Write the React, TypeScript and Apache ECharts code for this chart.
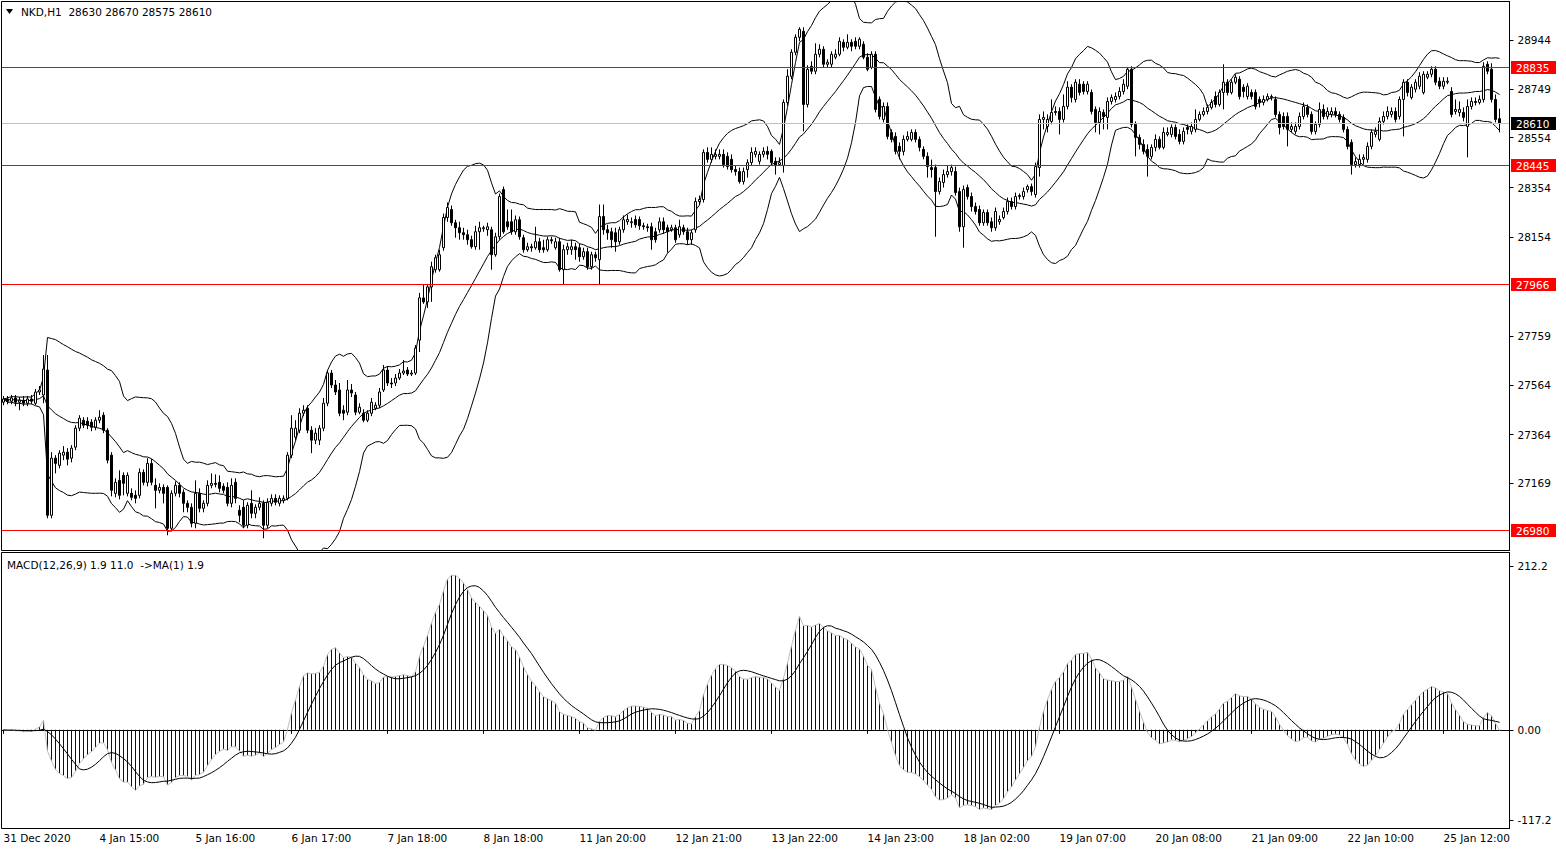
import React, { useEffect, useRef } from "react";
import * as echarts from "echarts";

// NKD H1 candles: [open, high, low, close]
const candles: number[][] = [
  [27494,27519,27482,27507],[27507,27519,27486,27498],[27498,27523,27486,27511],[27511,27523,27478,27494],[27494,27515,27462,27502],
  [27502,27519,27478,27490],[27490,27519,27478,27507],[27507,27523,27486,27498],[27490,27547,27482,27535],[27535,27559,27523,27543],
  [27523,27683,27490,27627],[27623,27683,27029,27041],[27041,27294,27029,27270],[27270,27282,27209,27249],[27241,27302,27229,27290],
  [27282,27318,27262,27294],[27294,27310,27241,27266],[27270,27322,27253,27310],[27314,27402,27302,27390],[27390,27442,27378,27430],
  [27422,27434,27390,27402],[27418,27434,27386,27402],[27414,27426,27378,27394],[27394,27434,27382,27422],[27422,27462,27410,27434],
  [27442,27454,27370,27382],[27382,27390,27249,27262],[27282,27294,27117,27141],[27129,27189,27113,27173],[27181,27221,27105,27121],
  [27201,27213,27121,27169],[27129,27213,27117,27201],[27129,27149,27101,27113],[27121,27141,27089,27109],[27121,27229,27109,27213],
  [27213,27225,27161,27173],[27173,27270,27157,27249],[27249,27266,27161,27173],[27161,27189,27069,27141],[27141,27169,27129,27153],
  [27153,27165,27089,27129],[27153,27161,26961,26989],[26989,27141,26977,27129],[27129,27177,27117,27161],[27161,27173,27113,27129],
  [27133,27145,27053,27089],[27089,27101,27053,27073],[27073,27089,26993,27009],[27009,27181,26989,27129],[27129,27149,27053,27069],
  [27069,27101,27053,27089],[27089,27181,27077,27161],[27161,27209,27149,27169],[27169,27205,27153,27165],[27173,27201,27133,27149],
  [27157,27169,27129,27141],[27153,27173,27077,27089],[27089,27189,27073,27161],[27173,27189,27089,27109],[27061,27081,27013,27041],
  [27073,27101,26989,27001],[27001,27093,26989,27081],[27089,27141,27029,27049],[27049,27085,27029,27073],[27073,27113,27061,27089],
  [27089,27101,26949,27001],[27001,27109,26989,27093],[27089,27125,27077,27109],[27109,27125,27081,27093],[27089,27121,27077,27109],
  [27101,27121,27089,27109],[27109,27294,27101,27282],[27282,27442,27270,27390],[27354,27422,27342,27390],[27382,27470,27370,27450],
  [27450,27482,27438,27462],[27470,27482,27370,27382],[27382,27398,27290,27342],[27342,27390,27326,27370],[27342,27402,27322,27390],
  [27390,27511,27378,27490],[27490,27623,27478,27611],[27611,27623,27551,27563],[27563,27583,27523,27535],[27543,27571,27438,27450],
  [27462,27482,27422,27450],[27454,27583,27442,27543],[27543,27567,27515,27531],[27523,27535,27442,27454],[27454,27490,27446,27474],
  [27450,27466,27414,27422],[27422,27462,27414,27450],[27450,27511,27438,27494],[27470,27494,27462,27482],[27482,27551,27470,27535],
  [27543,27643,27535,27623],[27623,27639,27559,27571],[27571,27591,27551,27567],[27571,27607,27559,27591],[27591,27627,27583,27611],
  [27611,27663,27603,27619],[27623,27635,27599,27607],[27607,27623,27599,27611],[27611,27723,27603,27711],[27743,27932,27695,27912],
  [27912,27964,27888,27896],[27896,27968,27872,27956],[27956,28057,27896,28037],[28025,28085,28013,28073],[28025,28105,28017,28085],
  [28113,28250,28101,28234],[28234,28294,28217,28274],[28266,28282,28201,28213],[28213,28225,28153,28193],[28193,28217,28145,28173],
  [28173,28193,28145,28165],[28165,28185,28125,28145],[28145,28161,28109,28117],[28117,28201,28105,28177],[28177,28217,28105,28193],
  [28189,28201,28177,28193],[28185,28213,28161,28197],[28185,28197,28025,28085],[28085,28173,28077,28157],[28157,28330,28145,28318],
  [28346,28358,28169,28177],[28217,28266,28185,28197],[28217,28266,28165,28177],[28177,28242,28165,28225],[28225,28238,28145,28157],
  [28153,28165,28093,28105],[28105,28133,28097,28117],[28117,28129,28097,28113],[28113,28197,28105,28137],[28137,28153,28093,28105],
  [28113,28145,28093,28105],[28105,28157,28097,28145],[28145,28157,28129,28141],[28113,28153,28105,28137],[28137,28153,28017,28025],
  [28025,28125,27964,28105],[28105,28133,28085,28117],[28105,28145,28085,28117],[28117,28133,28065,28105],[28113,28129,28057,28077],
  [28077,28113,28065,28097],[28097,28113,28025,28037],[28037,28097,28025,28085],[28085,28097,28057,28073],[28065,28286,27964,28238],
  [28238,28286,28165,28185],[28185,28205,28145,28173],[28177,28193,28113,28145],[28173,28193,28097,28137],[28137,28197,28125,28185],
  [28185,28242,28173,28225],[28217,28246,28205,28226],[28213,28234,28193,28217],[28226,28242,28193,28205],[28226,28238,28185,28201],
  [28201,28213,28185,28197],[28197,28209,28177,28193],[28197,28213,28105,28145],[28177,28193,28133,28145],[28185,28234,28173,28217],
  [28217,28234,28169,28185],[28193,28205,28093,28177],[28185,28205,28177,28193],[28193,28205,28133,28145],[28165,28225,28153,28197],
  [28193,28205,28165,28177],[28177,28193,28125,28145],[28145,28185,28125,28173],[28185,28314,28173,28298],[28298,28322,28286,28306],
  [28306,28507,28294,28495],[28495,28515,28454,28467],[28467,28515,28454,28487],[28479,28507,28467,28487],[28479,28507,28467,28487],
  [28487,28507,28434,28446],[28479,28495,28426,28438],[28467,28487,28414,28426],[28426,28442,28402,28418],[28418,28434,28370,28378],
  [28378,28434,28366,28418],[28426,28467,28394,28454],[28454,28515,28442,28495],[28487,28515,28475,28499],[28459,28499,28446,28487],
  [28487,28515,28475,28499],[28499,28519,28467,28487],[28499,28507,28442,28454],[28459,28475,28406,28442],[28446,28475,28442,28454],
  [28442,28707,28414,28695],[28695,28828,28683,28800],[28800,28908,28788,28896],[28896,28968,28884,28956],[28956,28996,28940,28988],
  [28980,28996,28579,28687],[28687,28844,28675,28828],[28840,28860,28808,28820],[28820,28932,28808,28888],[28888,28928,28876,28908],
  [28908,28920,28836,28848],[28848,28868,28836,28856],[28848,28900,28836,28888],[28876,28908,28868,28888],[28888,28956,28880,28940],
  [28936,28948,28900,28916],[28916,28968,28908,28936],[28936,28948,28900,28920],[28940,28956,28908,28920],[28920,28956,28908,28948],
  [28928,28940,28868,28876],[28876,28892,28820,28828],[28836,28900,28828,28888],[28888,28900,28655,28667],[28707,28719,28627,28639],
  [28627,28695,28615,28679],[28679,28695,28547,28559],[28575,28587,28535,28547],[28559,28575,28487,28499],[28519,28535,28467,28499],
  [28499,28563,28483,28547],[28547,28579,28539,28559],[28547,28587,28539,28575],[28575,28587,28535,28547],[28547,28559,28499,28515],
  [28507,28519,28467,28479],[28479,28495,28394,28438],[28434,28466,28394,28426],[28434,28446,28157,28338],[28338,28394,28326,28378],
  [28374,28426,28354,28406],[28406,28442,28394,28418],[28418,28446,28402,28434],[28418,28438,28322,28334],[28338,28354,28177,28197],
  [28197,28362,28113,28346],[28354,28366,28306,28318],[28318,28334,28258,28278],[28278,28294,28246,28258],[28266,28282,28201,28213],
  [28213,28266,28201,28254],[28254,28266,28201,28213],[28217,28234,28177,28193],[28193,28274,28181,28258],[28217,28242,28205,28226],
  [28234,28274,28226,28258],[28258,28314,28246,28298],[28298,28314,28266,28278],[28278,28334,28266,28318],[28318,28330,28306,28322],
  [28318,28354,28306,28338],[28346,28366,28334,28358],[28358,28370,28322,28338],[28326,28454,28314,28438],[28434,28647,28398,28627],
  [28627,28659,28587,28635],[28599,28647,28575,28627],[28619,28707,28607,28655],[28659,28679,28643,28655],[28659,28675,28567,28627],
  [28627,28727,28615,28679],[28679,28780,28667,28756],[28756,28768,28695,28715],[28707,28788,28695,28776],[28768,28788,28723,28735],
  [28768,28780,28727,28739],[28739,28780,28727,28768],[28735,28747,28647,28659],[28667,28679,28575,28615],[28615,28675,28567,28659],
  [28655,28667,28587,28639],[28635,28715,28587,28699],[28699,28727,28687,28715],[28707,28735,28695,28719],[28719,28756,28707,28739],
  [28739,28788,28727,28768],[28760,28836,28748,28828],[28828,28840,28595,28607],[28607,28619,28479,28555],[28555,28567,28507,28527],
  [28527,28547,28487,28499],[28507,28527,28398,28479],[28479,28527,28467,28515],[28515,28567,28499,28547],[28547,28559,28507,28515],
  [28515,28595,28507,28575],[28567,28595,28559,28575],[28567,28607,28555,28595],[28595,28607,28547,28559],[28567,28587,28527,28539],
  [28539,28595,28527,28579],[28595,28607,28567,28587],[28579,28615,28567,28599],[28587,28667,28575,28627],[28627,28659,28619,28647],
  [28647,28675,28639,28659],[28659,28687,28647,28675],[28675,28707,28667,28695],[28719,28739,28675,28687],[28687,28747,28679,28735],
  [28735,28848,28667,28776],[28776,28788,28723,28735],[28735,28788,28727,28776],[28776,28808,28768,28796],[28788,28800,28707,28719],
  [28756,28768,28715,28739],[28719,28772,28707,28760],[28735,28747,28707,28719],[28735,28747,28667,28679],[28707,28719,28675,28695],
  [28695,28723,28683,28707],[28707,28731,28699,28719],[28715,28727,28703,28719],[28707,28719,28635,28647],[28647,28659,28567,28595],
  [28639,28655,28587,28599],[28639,28655,28519,28587],[28587,28615,28575,28599],[28579,28615,28567,28599],[28599,28655,28587,28639],
  [28639,28695,28627,28679],[28675,28687,28635,28647],[28647,28659,28567,28579],[28579,28619,28567,28607],[28607,28695,28595,28667],
  [28667,28687,28627,28639],[28639,28675,28627,28659],[28647,28675,28635,28659],[28659,28675,28635,28647],[28647,28659,28615,28627],
  [28635,28647,28575,28587],[28587,28599,28507,28519],[28535,28547,28406,28446],[28446,28475,28434,28458],[28446,28487,28434,28467],
  [28467,28487,28446,28475],[28467,28535,28454,28519],[28519,28587,28507,28575],[28567,28595,28555,28579],[28547,28635,28539,28619],
  [28619,28659,28607,28639],[28639,28679,28627,28659],[28647,28675,28635,28659],[28659,28675,28615,28627],[28639,28719,28627,28707],
  [28707,28788,28559,28776],[28776,28788,28719,28735],[28715,28768,28707,28756],[28748,28788,28735,28776],[28760,28816,28748,28800],
  [28735,28820,28727,28808],[28796,28820,28788,28808],[28808,28840,28796,28828],[28828,28840,28764,28776],[28780,28796,28748,28760],
  [28760,28796,28748,28780],[28776,28796,28768,28780],[28739,28756,28635,28647],[28659,28707,28647,28667],[28655,28699,28639,28667],
  [28655,28675,28619,28635],[28599,28707,28475,28679],[28679,28715,28667,28699],[28699,28715,28683,28695],[28695,28723,28687,28707],
  [28707,28856,28695,28840],[28848,28860,28808,28820],[28828,28852,28695,28707],[28707,28727,28615,28627],[28630,28670,28575,28610],
];

const xTickLabels = [
  "31 Dec 2020", "4 Jan 15:00", "5 Jan 16:00", "6 Jan 17:00", "7 Jan 18:00", "8 Jan 18:00",
  "11 Jan 20:00", "12 Jan 21:00", "13 Jan 22:00", "14 Jan 23:00", "18 Jan 02:00", "19 Jan 07:00",
  "20 Jan 08:00", "21 Jan 09:00", "22 Jan 10:00", "25 Jan 12:00",
];
const barsPerLabel = 24;
const slotCount = 377;

const priceTicks = [28944, 28749, 28554, 28354, 28154, 27759, 27564, 27364, 27169];
const levelLines = [28835, 28445, 27966, 26980];
const lastPrice = 28610;
const macdTicks = [212.2, 0, -117.2];

const titleText = "NKD,H1  28630 28670 28575 28610";
const macdTitle = "MACD(12,26,9) 1.9 11.0  ->MA(1) 1.9";

const FONT = "DejaVu Sans";
const FS = 10.5;
const GRID_LEFT = 1.5;
const GRID_WIDTH = 1508;

function ema(vals: number[], n: number) {
  const k = 2 / (n + 1);
  const out: number[] = [];
  let prev = vals[0];
  vals.forEach((v, i) => {
    prev = i === 0 ? v : v * k + prev * (1 - k);
    out.push(prev);
  });
  return out;
}

export default function App() {
  const ref = useRef<HTMLDivElement>(null);
  useEffect(() => {
    const chart = echarts.init(ref.current!, null, { renderer: "svg" });
    const closes = candles.map((c) => c[3]);
    const bbUp: number[] = [], bbMid: number[] = [], bbLow: number[] = [];
    closes.forEach((_, i) => {
      const w = closes.slice(Math.max(0, i - 19), i + 1);
      const m = w.reduce((a, b) => a + b, 0) / w.length;
      const sd = Math.sqrt(w.reduce((a, b) => a + (b - m) * (b - m), 0) / w.length);
      bbUp.push(+(m + 2 * sd).toFixed(2));
      bbMid.push(+m.toFixed(2));
      bbLow.push(+(m - 2 * sd).toFixed(2));
    });
    const e12 = ema(closes, 12), e26 = ema(closes, 26);
    const macd = e12.map((v, i) => +(v - e26[i]).toFixed(2));
    const signal = macd.map((_, i) => {
      const w = macd.slice(Math.max(0, i - 8), i + 1);
      return +(w.reduce((a, b) => a + b, 0) / w.length).toFixed(2);
    });

    const xData = Array.from({ length: slotCount }, (_, i) => String(i));
    const showIdx = (i: number) => i % barsPerLabel === 0 && i / barsPerLabel < xTickLabels.length;
    const font = `${FS}px "${FONT}"`;

    const option: any = {
      animation: false,
      backgroundColor: "#fff",
      textStyle: { fontFamily: FONT },
      grid: [
        { left: GRID_LEFT, top: 1.5, width: GRID_WIDTH, height: 549, show: true, borderColor: "#000", borderWidth: 1 },
        { left: GRID_LEFT, top: 552.5, width: GRID_WIDTH, height: 276, show: true, borderColor: "#000", borderWidth: 1 },
      ],
      xAxis: [
        {
          type: "category", gridIndex: 0, data: xData, boundaryGap: true,
          axisLine: { show: false }, axisTick: { show: false }, axisLabel: { show: false }, splitLine: { show: false },
        },
        {
          type: "category", gridIndex: 1, data: xData, boundaryGap: true,
          axisLine: { show: true, lineStyle: { color: "#000" } },
          axisTick: { show: true, interval: (i: number) => showIdx(i), alignWithLabel: true, length: 4, lineStyle: { color: "#000" } },
          axisLabel: {
            show: true, interval: (i: number) => showIdx(i), align: "left", margin: 4,
            color: "#000", fontFamily: FONT, fontSize: FS,
            formatter: (_v: string, i: number) => xTickLabels[i / barsPerLabel] ?? "",
          },
          splitLine: { show: false },
        },
      ],
      yAxis: [
        {
          type: "value", gridIndex: 0, position: "right", min: 26900, max: 29099.4,
          splitLine: { show: false },
          axisLine: { show: true, lineStyle: { color: "#000" } },
          axisTick: { show: true, customValues: priceTicks, length: 4, lineStyle: { color: "#000" } },
          axisLabel: {
            show: true, customValues: priceTicks, margin: 8, color: "#000", fontFamily: FONT, fontSize: FS,
            formatter: (v: number) => String(Math.round(v)),
          },
        },
        {
          type: "value", gridIndex: 1, position: "right", min: -127.8, max: 229.7,
          splitLine: { show: false },
          axisLine: { show: true, lineStyle: { color: "#000" } },
          axisTick: { show: true, customValues: macdTicks, length: 4, lineStyle: { color: "#000" } },
          axisLabel: {
            show: true, customValues: macdTicks, margin: 8, color: "#000", fontFamily: FONT, fontSize: FS,
            formatter: (v: number) => (v === 0 ? "0.00" : v.toFixed(1)),
          },
        },
      ],
      series: [
        ...[bbUp, bbMid, bbLow].map((d) => ({
          type: "line", xAxisIndex: 0, yAxisIndex: 0, data: d, symbol: "none", silent: true,
          lineStyle: { color: "#000", width: 1 }, z: 2,
        })),
        {
          type: "candlestick", xAxisIndex: 0, yAxisIndex: 0,
          data: candles.map(([o, h, l, c]) => [o, c, l, h]),
          barWidth: 3,
          itemStyle: { color: "#fff", color0: "#000", borderColor: "#000", borderColor0: "#000", borderColorDoji: "#000", borderWidth: 1 },
          z: 3,
        },
        {
          type: "bar", xAxisIndex: 1, yAxisIndex: 1, data: macd, barWidth: 1,
          itemStyle: { color: "#000080" }, silent: true,
        },
        {
          type: "line", xAxisIndex: 1, yAxisIndex: 1, data: macd, symbol: "none", silent: true,
          lineStyle: { color: "#c0c0c0", width: 1 },
        },
        {
          type: "line", xAxisIndex: 1, yAxisIndex: 1, data: signal, symbol: "none", silent: true,
          lineStyle: { color: "#000", width: 1 },
        },
      ],
    };
    chart.setOption(option);

    // price level lines and boxed labels, placed through the chart's own y scale
    const yPix = (v: number) => Math.floor((chart.convertToPixel({ yAxisIndex: 0 }, v) as number) + 0.2);
    const levelGraphic = (v: number, lineColor: string, boxColor: string) => {
      const y = yPix(v);
      return [
        {
          type: "rect", silent: true, z: 100,
          shape: { x: 2, y: y, width: GRID_WIDTH - 1, height: 1 },
          style: { fill: lineColor, stroke: null },
        },
        {
          type: "rect", silent: true, z: 101,
          shape: { x: 1511, y: y - 6, width: 45, height: 13 },
          style: { fill: boxColor, stroke: null },
        },
        {
          type: "text", silent: true, z: 102, x: 1516, y: y + 0.5,
          style: { text: String(v), fill: "#ffffff", font, verticalAlign: "middle" },
        },
      ];
    };
    const graphic: any[] = [
      ...levelGraphic(lastPrice, "#c0c0c0", "#000000"),
      ...levelLines.flatMap((v) => levelGraphic(v, "#ff0000", "#ff0000")),
      { type: "polygon", silent: true, shape: { points: [[6, 9], [13, 9], [9.5, 14]] }, style: { fill: "#000" } },
      { type: "text", silent: true, x: 21, y: 12, style: { text: titleText, fill: "#000", font, verticalAlign: "middle" } },
      { type: "text", silent: true, x: 7, y: 565, style: { text: macdTitle, fill: "#000", font, verticalAlign: "middle" } },
    ];
    chart.setOption({ graphic });
    return () => chart.dispose();
  }, []);
  return (
    <div
      ref={ref}
      style={{ position: "absolute", left: 0, top: 0, width: 1566, height: 850, background: "#fff" }}
    />
  );
}
